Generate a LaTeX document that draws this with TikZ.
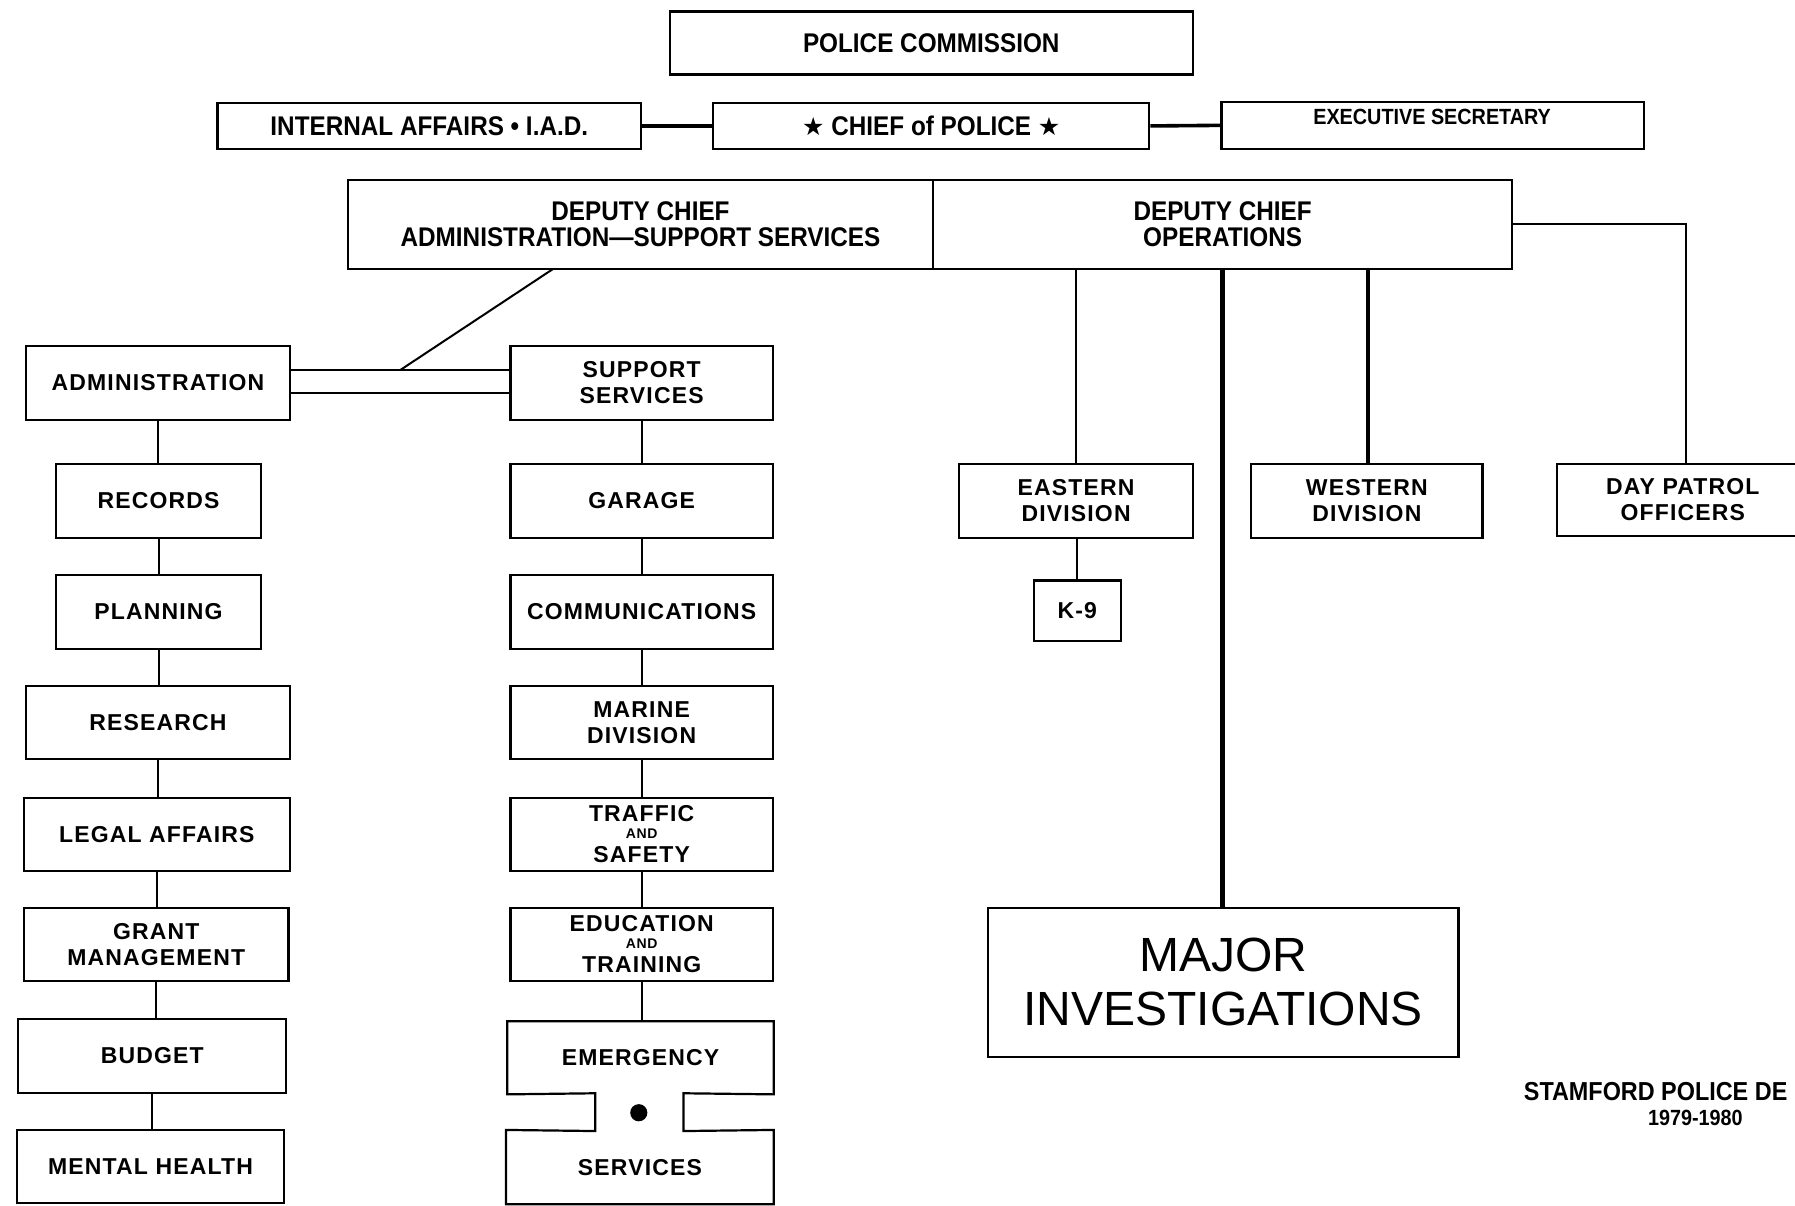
\documentclass[tikz,border=0pt]{standalone}
\usepackage{fontspec}
\setmainfont{Liberation Sans}
\newfontfamily\condf{Liberation Sans}[FakeStretch=0.9]
\newfontfamily\widef{Liberation Sans}[LetterSpace=5]
\newfontfamily\starf{DejaVu Sans}
\usetikzlibrary{calc}

% \orgbox[style]{name}{x1}{y1}{x2}{y2}{text}
\newcommand\orgbox[7][]{%
  \node[box,#1,minimum width={(#5-#3)*1.1448pt},minimum height={(#6-#4)*1.1448pt}]
    (#2) at ({(#3+#5)/2},{(#4+#6)/2}) {#7};}
\newcommand\smalland{{\fontsize{14}{14}\selectfont AND}}
\newcommand\chiefstar{{\starf\fontsize{25}{25}\selectfont ★}}

\begin{document}
\begin{tikzpicture}[x=1.1448pt,y=-1.1448pt,
  box/.style={draw,line width=2.2pt,inner sep=0pt,align=center,line join=miter},
  topfont/.style={font=\condf\bfseries\fontsize{27}{26}\selectfont},
  colfont/.style={font=\widef\bfseries\fontsize{23}{26}\selectfont},
  link/.style={line width=2pt},
  heavy/.style={line width=3.6pt},
  trunk/.style={line width=5pt},
]
\useasboundingbox[fill=white] (0,0) rectangle (1568,1053);

% ---- command level
\orgbox[topfont]{pc}{585}{10}{1042}{65}{POLICE COMMISSION}
\orgbox[topfont]{iad}{190}{90}{560}{130}{INTERNAL AFFAIRS \textbullet\ I.A.D.}
\orgbox[topfont]{chief}{623}{90}{1004}{130}{\chiefstar\ CHIEF of POLICE \chiefstar}
\orgbox{exec}{1067}{89}{1436}{130}{}
\node[font=\condf\bfseries\fontsize{22}{22}\selectfont] (exectext) at (1251,102) {EXECUTIVE SECRETARY};

\draw[heavy] (iad.east) -- (chief.west);
\draw[heavy] (chief.east) -- (exec.west);

% ---- deputy chiefs
\orgbox[topfont]{dca}{304}{157}{815}{235}{DEPUTY CHIEF\\ADMINISTRATION—SUPPORT SERVICES}
\orgbox[topfont]{dco}{815}{157}{1321}{235}{DEPUTY CHIEF\\OPERATIONS}

% ---- administration side
\orgbox[colfont]{admin}{23}{302}{253}{367}{ADMINISTRATION}
\orgbox[colfont]{supp}{446}{302}{675}{367}{SUPPORT\\SERVICES}
\coordinate (split) at (350,323);
\draw[link] (483,235) -- (split);
\draw[link] (admin.east |- split) -- (supp.west |- split);
\draw[link] (253,343) -- (446,343);

\orgbox[colfont]{records}{49}{405}{228}{470}{RECORDS}
\orgbox[colfont]{planning}{49}{502}{228}{567}{PLANNING}
\orgbox[colfont]{research}{23}{599}{253}{663}{RESEARCH}
\orgbox[colfont]{legal}{21}{697}{253}{761}{LEGAL AFFAIRS}
\orgbox[colfont]{grant}{21}{793}{252}{857}{GRANT\\MANAGEMENT}
\orgbox[colfont]{budget}{16}{890}{250}{955}{BUDGET}
\orgbox[colfont]{mental}{15}{987}{248}{1051}{MENTAL HEALTH}

\foreach \a/\b in {admin/records,records/planning,planning/research,research/legal,
                   legal/grant,grant/budget,budget/mental}
  \draw[link] (\a.south) -- (\a.south |- \b.north);

\orgbox[colfont]{garage}{446}{405}{675}{470}{GARAGE}
\orgbox[colfont]{comm}{446}{502}{675}{567}{COMMUNICATIONS}
\orgbox[colfont]{marine}{446}{599}{675}{663}{MARINE\\DIVISION}
\orgbox[colfont]{traffic}{446}{697}{675}{761}{TRAFFIC\\[-9pt]\smalland\\[-2pt]SAFETY}
\orgbox[colfont]{edu}{446}{793}{675}{857}{EDUCATION\\[-9pt]\smalland\\[-2pt]TRAINING}

% emergency services: two panels joined by a neck
\orgbox[colfont,draw=none]{emerg}{444}{893}{675}{955}{EMERGENCY}
\orgbox[colfont,draw=none]{serv}{443}{988}{675}{1051}{SERVICES}
\draw[line width=2.2pt,line join=miter]
  (emerg.north west) -- (emerg.north east) -- (emerg.south east) -- (597,955)
  -- (597,988) -- (serv.north east) -- (serv.south east) -- (serv.south west)
  -- (serv.north west) -- (520,988) -- (520,955) -- (emerg.south west) -- cycle;
\fill (558,972) circle (7.5);

\foreach \a/\b in {supp/garage,garage/comm,comm/marine,marine/traffic,traffic/edu,edu/emerg}
  \draw[link] (\a.south) -- (\a.south |- \b.north);

% ---- operations side
\orgbox[colfont]{eastern}{838}{405}{1042}{470}{EASTERN\\DIVISION}
\orgbox[colfont]{k9}{903}{507}{979}{560}{K-9}
\orgbox[colfont]{western}{1093}{405}{1295}{470}{WESTERN\\DIVISION}
\orgbox[colfont]{day}{1360}{405}{1580}{468}{DAY PATROL\\OFFICERS}
\orgbox[font=\fontsize{48}{54}\selectfont]{major}{863}{793}{1274}{923}{MAJOR\\INVESTIGATIONS}

\draw[link] (940,235) -- (940,405);
\draw[trunk] (1068,235) -- (1068,793);
\draw[heavy] (1195,235) -- (1195,405);
\draw[link] (dco.east |- 0,196) -- (1473,196) -- (1473,405);
\draw[link] (eastern.south -| k9.north) -- (k9.north);

% ---- caption
\node[anchor=base west,inner sep=0pt,font=\condf\bfseries\fontsize{26}{26}\selectfont]
  (cap1) at (1331,961) {STAMFORD POLICE DE};
\node[anchor=base,inner sep=0pt,font=\condf\bfseries\fontsize{22}{22}\selectfont]
  (cap2) at (1481,983) {1979-1980};
\end{tikzpicture}
\end{document}
